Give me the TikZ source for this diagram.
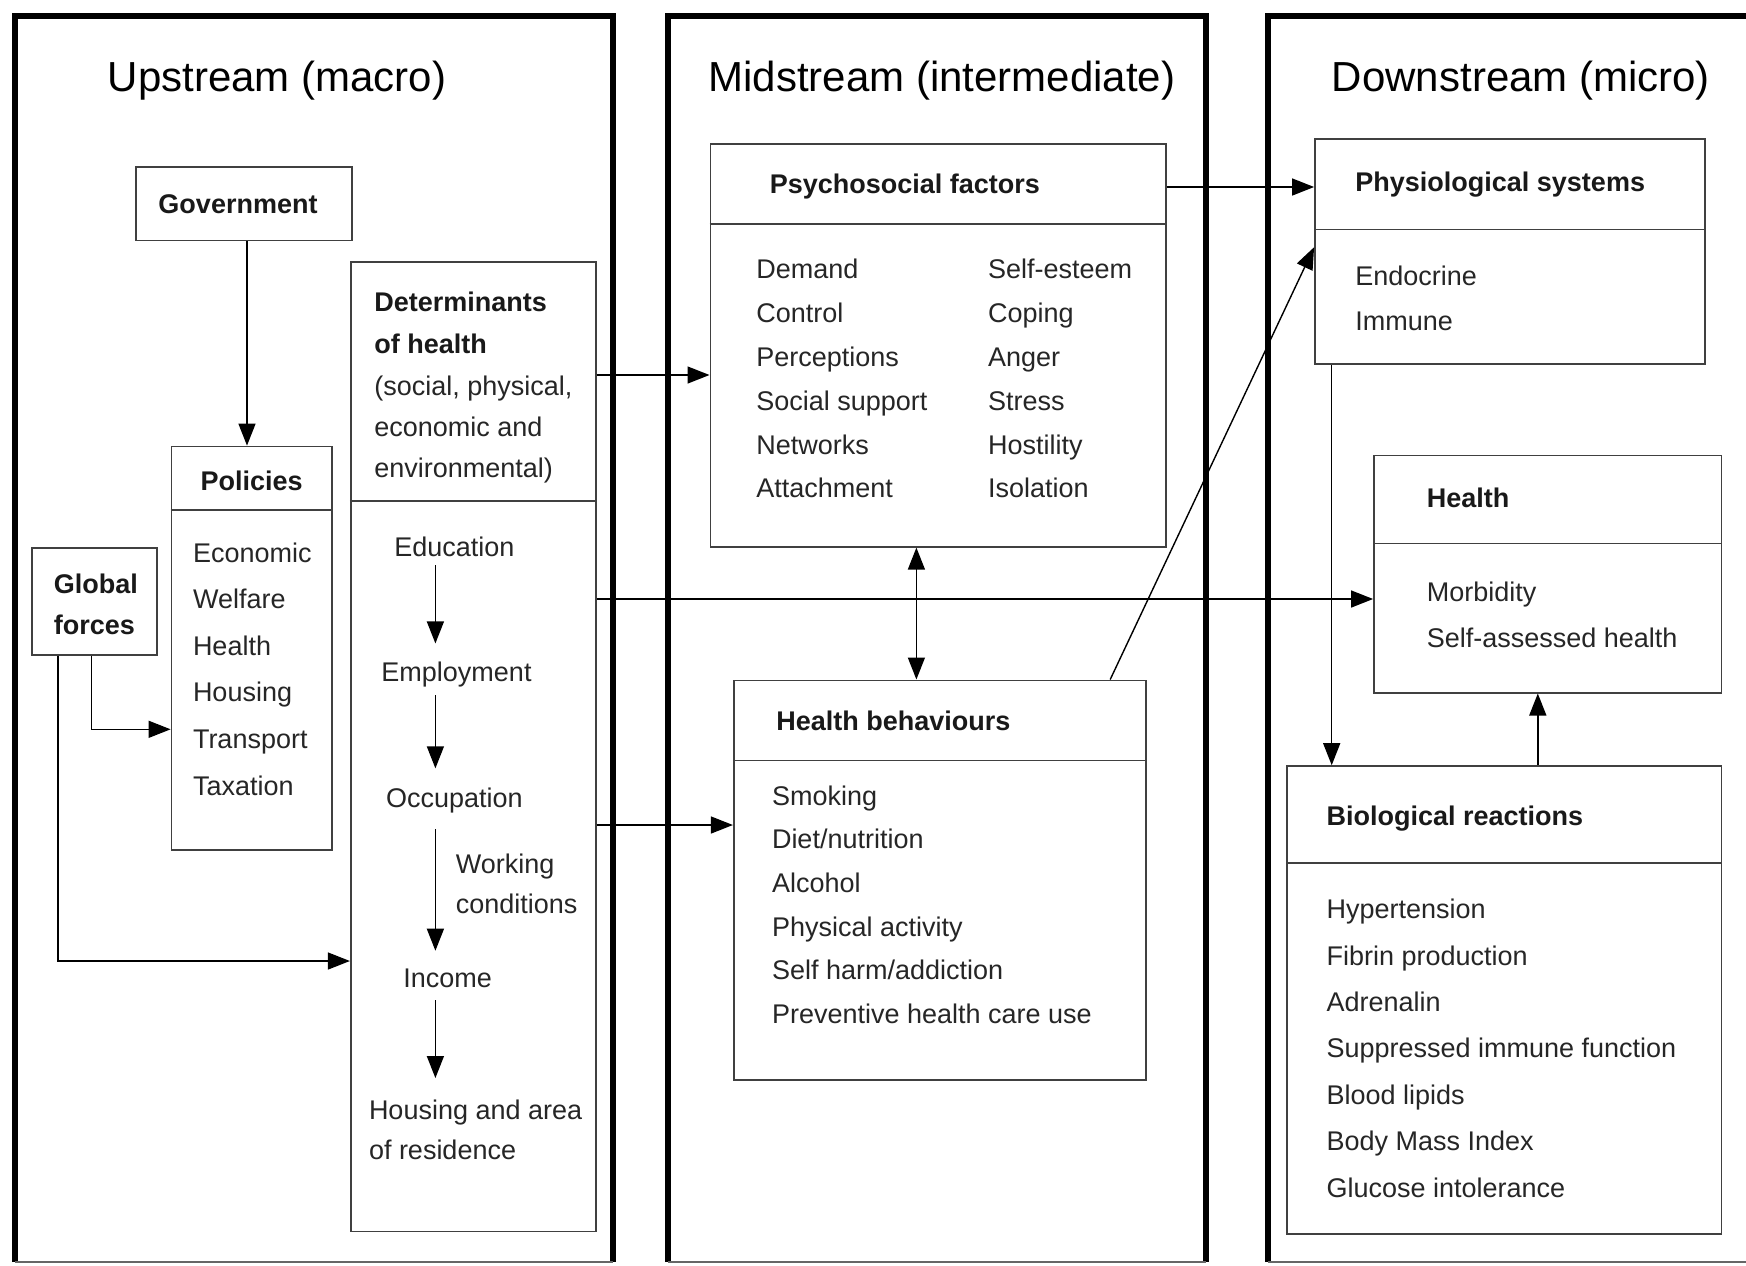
\documentclass[tikz,border=0pt]{standalone}
\usepackage{fontspec}
\setmainfont{Liberation Sans}
\usetikzlibrary{arrows.meta,fit}
\begin{document}
\begin{tikzpicture}[x=0.5pt,y=-0.5pt,
  box/.style={draw=black!75,line width=0.9pt,inner sep=0pt},
  divider/.style={draw=black!75,line width=0.9pt},
  frame/.style={line width=3pt},
  arr/.style={line width=0.7pt,-{Triangle[length=11pt,width=8.5pt]}},
  dbl/.style={line width=0.7pt,{Triangle[length=11pt,width=8.5pt]}-{Triangle[length=11pt,width=8.5pt]}},
  txt/.style={inner sep=0pt,font=\fontsize{13.5}{20}\selectfont,text=black!85},
  hd/.style={inner sep=0pt,font=\bfseries\fontsize{13.5}{20}\selectfont,text=black!90},
  ttl/.style={inner sep=0pt,font=\fontsize{21}{25}\selectfont}]
\useasboundingbox (0,0) rectangle (1746,1265);
\fill[white] (0,0) rectangle (1746,1265);

% column frames
\draw[frame] (15,1262) -- (15,16) -- (613,16) -- (613,1262);
\draw[frame] (668,1262) -- (668,16) -- (1206,16) -- (1206,1262);
\draw[frame] (1268,1262) -- (1268,16) -- (1760,16);
\draw[black!60,line width=0.6pt] (15,1262) -- (613,1262) (668,1262) -- (1206,1262) (1268,1262) -- (1746,1262);

% titles
\node[ttl,anchor=base] (tU) at (277,91) {Upstream (macro)};
\node[ttl,anchor=base] (tM) at (942,91) {Midstream (intermediate)};
\node[ttl,anchor=base] (tD) at (1521,91) {Downstream (micro)};

% Government
\node[box,fit={(135.8,167)(351.9,240.5)}] (gov) {};
\node[hd] (govT) at (238,204) {Government};

% Policies
\node[box,fit={(171.5,446.5)(331.8,849.6)}] (pol) {};
\draw[divider] (pol.west |- 0,510) -- (pol.east |- 0,510);
\node[hd,anchor=base] (polT) at (251.7,490) {Policies};
\foreach \t [count=\i from 0] in {Economic,Welfare,Health,Housing,Transport,Taxation}
  \node[txt,anchor=base west] (pol-\i) at (192.6,{562+\i*46.6}) {\t};

% Global forces
\node[box,fit={(32.3,547.8)(157,654.7)}] (glob) {};
\node[hd,anchor=base west] (globA) at (53.4,593.5) {Global};
\node[hd,anchor=base west] (globB) at (53.4,634.7) {forces};

% Determinants of health
\node[box,fit={(350.8,261.7)(595.7,1231.5)}] (det) {};
\draw[divider] (det.west |- 0,501) -- (det.east |- 0,501);
\node[hd,anchor=base west] (detA) at (374,311.8) {Determinants};
\node[hd,anchor=base west] (detB) at (374,353) {of health};
\node[txt,anchor=base west] (detC) at (374,395.3) {(social, physical,};
\node[txt,anchor=base west] (detD) at (374,436.5) {economic and};
\node[txt,anchor=base west] (detE) at (374,477.7) {environmental)};
\node[txt,anchor=base] (edu) at (454.3,556.7) {Education};
\node[txt,anchor=base] (emp) at (456.5,681.4) {Employment};
\node[txt,anchor=base] (occ) at (454.3,807.3) {Occupation};
\node[txt,anchor=base west] (wcA) at (455.4,873) {Working};
\node[txt,anchor=base west] (wcB) at (455.4,913) {conditions};
\node[txt,anchor=base] (inc) at (447.6,987.7) {Income};
\node[txt,anchor=base west] (housA) at (368.6,1119) {Housing and area};
\node[txt,anchor=base west] (housB) at (368.6,1159) {of residence};
\draw[arr,shorten <=4pt,shorten >=9pt] (edu.south -| 435.4,0) -- (emp.north -| 435.4,0);
\draw[arr,shorten <=4pt,shorten >=9.5pt] (emp.south -| 435.4,0) -- (occ.north -| 435.4,0);
\draw[arr,shorten <=8pt,shorten >=9pt] (occ.south -| 435.4,0) -- (inc.north -| 435.4,0);
\draw[arr,shorten <=6pt,shorten >=10.5pt] (inc.south -| 435.4,0) -- (housA.north -| 435.4,0);

% Psychosocial factors
\node[box,fit={(710.4,143.6)(1165.8,546.7)}] (psy) {};
\draw[divider] (psy.west |- 0,223.8) -- (psy.east |- 0,223.8);
\node[hd,anchor=base west] (psyT) at (769.4,193.7) {Psychosocial factors};
\foreach \t [count=\i from 0] in {Demand,Control,Perceptions,Social support,Networks,Attachment}
  \node[txt,anchor=base west] (psyL-\i) at (756,{278.4+\i*43.9}) {\t};
\foreach \t [count=\i from 0] in {Self-esteem,Coping,Anger,Stress,Hostility,Isolation}
  \node[txt,anchor=base west] (psyR-\i) at (987.7,{278.4+\i*43.9}) {\t};

% Health behaviours
\node[box,fit={(733.8,680.4)(1145.8,1080.1)}] (hb) {};
\draw[divider] (hb.west |- 0,760.5) -- (hb.east |- 0,760.5);
\node[hd,anchor=base west] (hbT) at (776,730.4) {Health behaviours};
\foreach \t [count=\i from 0] in {Smoking,Diet/nutrition,Alcohol,Physical activity,Self harm/addiction,Preventive health care use}
  \node[txt,anchor=base west] (hb-\i) at (771.6,{805+\i*43.7}) {\t};

% Physiological systems
\node[box,fit={(1315,139.2)(1704.8,364.1)}] (phys) {};
\draw[divider] (phys.west |- 0,229.4) -- (phys.east |- 0,229.4);
\node[hd,anchor=base west] (physT) at (1355,191.5) {Physiological systems};
\node[txt,anchor=base west] (phys-0) at (1355,285) {Endocrine};
\node[txt,anchor=base west] (phys-1) at (1355,330.7) {Immune};

% Health
\node[box,fit={(1374,455.4)(1721.5,692.6)}] (hlth) {};
\draw[divider] (hlth.west |- 0,543.4) -- (hlth.east |- 0,543.4);
\node[hd,anchor=base west] (hlthT) at (1426.4,507.7) {Health};
\node[txt,anchor=base west] (hlth-0) at (1426.4,601.3) {Morbidity};
\node[txt,anchor=base west] (hlth-1) at (1426.4,647) {Self-assessed health};

% Biological reactions
\node[box,fit={(1287.2,766.1)(1721.5,1233.8)}] (bio) {};
\draw[divider] (bio.west |- 0,863) -- (bio.east |- 0,863);
\node[hd,anchor=base west] (bioT) at (1326.2,825) {Biological reactions};
\foreach \t [count=\i from 0] in {Hypertension,Fibrin production,Adrenalin,Suppressed immune function,Blood lipids,Body Mass Index,Glucose intolerance}
  \node[txt,anchor=base west] (bio-\i) at (1326.2,{918.6+\i*46.4}) {\t};

% connectors
\draw[arr] (gov.south -| 247,0) -- (pol.north -| 247,0);
\draw[arr] (glob.south -| 91.3,0) |- (pol.west |- 0,729.3);
\draw[arr] (glob.south -| 57.9,0) |- (det.west |- 0,961);
\draw[arr] (det.east |- 0,375) -- (psy.west |- 0,375);
\draw[arr] (det.east |- 0,599) -- (hlth.west |- 0,599);
\draw[arr] (det.east |- 0,825) -- (hb.west |- 0,825);
\draw[dbl] (psy.south -| 916.4,0) -- (hb.north -| 916.4,0);
\draw[arr] (psy.east |- 0,187) -- (phys.west |- 0,187);
\draw[arr] (hb.north -| 1110.2,0) -- (phys.west |- 0,247.2);
\draw[arr] (phys.south -| 1331.7,0) -- (bio.north -| 1331.7,0);
\draw[arr] (bio.north -| 1537.8,0) -- (hlth.south -| 1537.8,0);
\end{tikzpicture}
\end{document}
